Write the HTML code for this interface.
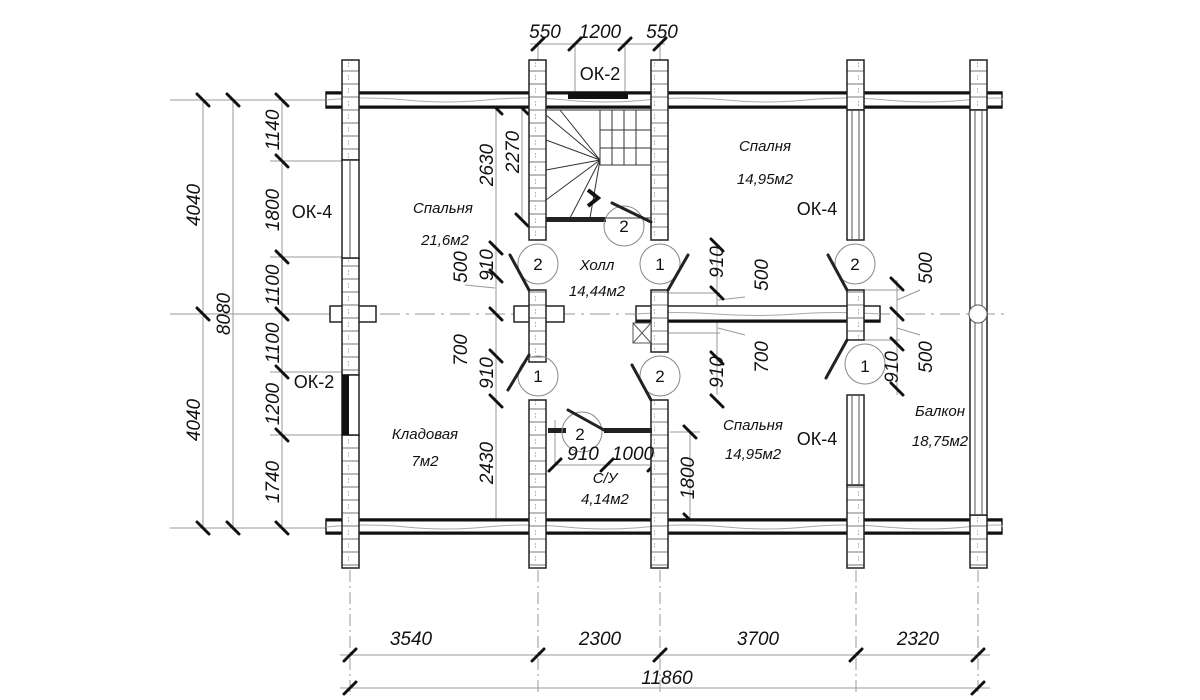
<!DOCTYPE html>
<html><head><meta charset="utf-8"><style>
html,body{margin:0;padding:0;background:#fff;}
svg{display:block}
text{font-family:"Liberation Sans","DejaVu Sans",sans-serif;fill:#111;}
.d{font-size:19px;font-style:italic}
.r{font-size:15px;font-style:italic}
.ok{font-size:18px}
</style></head><body>
<svg width="1200" height="700" viewBox="0 0 1200 700" xmlns="http://www.w3.org/2000/svg">
<defs>
<pattern id="ch" width="17" height="13" patternUnits="userSpaceOnUse">
<rect width="17" height="13" fill="#fff"/>
<line x1="0" y1="6" x2="17" y2="6" stroke="#777" stroke-width="1"/>
<line x1="8.5" y1="0" x2="8.5" y2="13" stroke="#bbb" stroke-width="1" stroke-dasharray="2,3"/>
</pattern>
</defs>
<rect width="1200" height="700" fill="#fff"/>
<g stroke="#999" stroke-width="1" fill="none">
<line x1="170" y1="100" x2="330" y2="100"/>
<line x1="270" y1="161" x2="345" y2="161"/>
<line x1="270" y1="257" x2="345" y2="257"/>
<line x1="170" y1="314" x2="330" y2="314"/>
<line x1="270" y1="372" x2="345" y2="372"/>
<line x1="270" y1="435" x2="345" y2="435"/>
<line x1="170" y1="528" x2="330" y2="528"/>
<line x1="203" y1="100" x2="203" y2="528"/>
<line x1="233" y1="100" x2="233" y2="528"/>
<line x1="282" y1="100" x2="282" y2="528"/>
<line x1="350" y1="570" x2="350" y2="695" stroke-dasharray="12,4,2,4"/>
<line x1="538" y1="570" x2="538" y2="695" stroke-dasharray="12,4,2,4"/>
<line x1="660" y1="570" x2="660" y2="695" stroke-dasharray="12,4,2,4"/>
<line x1="856" y1="570" x2="856" y2="695" stroke-dasharray="12,4,2,4"/>
<line x1="978" y1="570" x2="978" y2="695" stroke-dasharray="12,4,2,4"/>
<line x1="340" y1="655" x2="990" y2="655"/>
<line x1="340" y1="688" x2="990" y2="688"/>
<line x1="530" y1="44" x2="665" y2="44"/>
<line x1="575" y1="44" x2="575" y2="92"/>
<line x1="625" y1="44" x2="625" y2="92"/>
<line x1="538" y1="44" x2="538" y2="60"/>
<line x1="660" y1="44" x2="660" y2="60"/>
<line x1="170" y1="314" x2="1010" y2="314" stroke-dasharray="20,6,3,6"/>
<line x1="496" y1="108" x2="496" y2="528"/>
<line x1="522" y1="108" x2="522" y2="220"/>
<line x1="717" y1="245" x2="717" y2="395"/>
<line x1="690" y1="432" x2="690" y2="520"/>
<line x1="670" y1="432" x2="700" y2="432"/>
<line x1="897" y1="280" x2="897" y2="395"/>
<line x1="555" y1="420" x2="555" y2="465"/>
<line x1="555" y1="465" x2="660" y2="465"/>
<line x1="660" y1="293" x2="720" y2="293"/>
<line x1="660" y1="333" x2="720" y2="333"/>
<line x1="860" y1="290" x2="900" y2="290"/>
<line x1="860" y1="340" x2="900" y2="340"/>
<line x1="718" y1="300" x2="745" y2="297"/>
<line x1="718" y1="328" x2="745" y2="335"/>
<line x1="897" y1="300" x2="920" y2="290"/>
<line x1="897" y1="328" x2="920" y2="335"/>
<line x1="465" y1="285" x2="495" y2="288"/>
</g>
<g stroke="#111" stroke-width="3" stroke-linecap="round">
<path d="M197 94l12 12M227 94l12 12M276 94l12 12M276 155l12 12M276 251l12 12M197 308l12 12M276 308l12 12M276 366l12 12M276 429l12 12M197 522l12 12M227 522l12 12M276 522l12 12"/>
<path d="M344 661l12-12M532 661l12-12M654 661l12-12M850 661l12-12M972 661l12-12M344 694l12-12M972 694l12-12
M532 50l12-12M569 50l12-12M619 50l12-12M654 50l12-12
M490 102l12 12M516 102l12 12M516 214l12 12M490 242l12 12M490 270l12 12M490 308l12 12M490 350l12 12M490 395l12 12M490 520l12 12
M711 239l12 12M711 287l12 12M711 352l12 12M711 395l12 12M684 426l12 12M684 514l12 12
M891 278l12 12M891 308l12 12M891 338l12 12M891 383l12 12
M549 471l12-12M601 471l12-12M648 471l12-12"/>
</g>
<g stroke="#222" fill="#fff" stroke-width="1.5">
<rect x="326" y="92" width="676" height="16"/>
<rect x="326" y="519" width="676" height="15"/>
<rect x="330" y="306" width="46" height="16"/>
<rect x="514" y="306" width="50" height="16"/>
<rect x="636" y="306" width="244" height="16"/>
</g>
<g stroke="#aaa" stroke-width="1" fill="none">
<path d="M326 100q40 -4 80 0t80 0t80 0t80 0t80 0t80 0t80 0t80 0t36 0"/>
<path d="M326 527q40 -4 80 0t80 0t80 0t80 0t80 0t80 0t80 0t80 0t36 0"/>
<path d="M636 314q40 -3 80 0t80 0t84 0"/>
</g>
<g stroke="#111" stroke-width="3">
<line x1="326" y1="93" x2="1002" y2="93"/><line x1="326" y1="107" x2="1002" y2="107"/>
<line x1="326" y1="520" x2="1002" y2="520"/><line x1="326" y1="533" x2="1002" y2="533"/>
<line x1="636" y1="321" x2="880" y2="321"/>
</g>
<g stroke="#222" fill="url(#ch)" stroke-width="1.5">
<rect x="342" y="60" width="17" height="100"/>
<rect x="342" y="258" width="17" height="117"/>
<rect x="342" y="435" width="17" height="133"/>
<rect x="529" y="60" width="17" height="180"/>
<rect x="529" y="290" width="17" height="72"/>
<rect x="529" y="400" width="17" height="168"/>
<rect x="651" y="60" width="17" height="180"/>
<rect x="651" y="290" width="17" height="62"/>
<rect x="651" y="400" width="17" height="168"/>
<rect x="847" y="60" width="17" height="50"/>
<rect x="847" y="290" width="17" height="50"/>
<rect x="847" y="485" width="17" height="83"/>
<rect x="970" y="60" width="17" height="50"/>
<rect x="970" y="515" width="17" height="53"/>
</g>
<g stroke="#222" fill="#fff" stroke-width="1.5">
<rect x="342" y="160" width="17" height="98"/>
<rect x="342" y="375" width="17" height="60"/>
<rect x="847" y="110" width="17" height="130"/>
<rect x="847" y="395" width="17" height="90"/>
<rect x="970" y="110" width="17" height="405"/>
</g>
<g stroke="#555" stroke-width="1">
<line x1="350" y1="160" x2="350" y2="258"/>
<line x1="852" y1="110" x2="852" y2="240"/><line x1="859" y1="110" x2="859" y2="240"/>
<line x1="852" y1="395" x2="852" y2="485"/><line x1="859" y1="395" x2="859" y2="485"/>
<line x1="975" y1="110" x2="975" y2="515"/><line x1="982" y1="110" x2="982" y2="515"/>
<circle cx="978" cy="314" r="9" fill="#fff"/>
<rect x="633" y="323" width="18" height="20" fill="#fff"/>
<line x1="633" y1="323" x2="651" y2="343"/><line x1="651" y1="323" x2="633" y2="343"/>
</g>
<rect x="568" y="94" width="60" height="5" fill="#111"/>
<rect x="342" y="375" width="7" height="60" fill="#111"/>
<g stroke="#333" stroke-width="1" fill="none">
<rect x="546" y="110" width="105" height="108"/>
<line x1="600" y1="110" x2="600" y2="165"/><line x1="600" y1="165" x2="651" y2="165"/>
<path d="M600 160L546 115M600 160L560 110M600 160L546 140M600 160L546 170M600 160L546 200M600 160L570 218M600 160L590 218"/>
<path d="M612 110v55M624 110v55M636 110v55M600 130h51M600 148h51"/>
</g>
<rect x="546" y="217" width="60" height="5" fill="#222"/>
<path d="M588 190l10 8-10 8" stroke="#111" stroke-width="4" fill="none"/>
<rect x="548" y="428" width="18" height="5" fill="#222"/>
<rect x="604" y="428" width="48" height="5" fill="#222"/>
<g stroke="#888" stroke-width="1" fill="none">
<circle cx="538" cy="264" r="20"/><circle cx="660" cy="264" r="20"/>
<circle cx="624" cy="226" r="20"/><circle cx="538" cy="376" r="20"/>
<circle cx="660" cy="376" r="20"/><circle cx="582" cy="432" r="20"/>
<circle cx="855" cy="264" r="20"/><circle cx="865" cy="364" r="20"/>
</g>
<g stroke="#222" stroke-width="3" stroke-linecap="round">
<line x1="529" y1="290" x2="510" y2="255"/><line x1="668" y1="290" x2="688" y2="255"/>
<line x1="651" y1="222" x2="612" y2="203"/><line x1="529" y1="355" x2="508" y2="390"/>
<line x1="651" y1="400" x2="632" y2="365"/><line x1="604" y1="430" x2="568" y2="410"/>
<line x1="847" y1="290" x2="828" y2="255"/><line x1="847" y1="340" x2="826" y2="378"/>
</g>
<g font-size="17">
<text x="538" y="270" text-anchor="middle">2</text><text x="660" y="270" text-anchor="middle">1</text>
<text x="624" y="232" text-anchor="middle">2</text><text x="538" y="382" text-anchor="middle">1</text>
<text x="660" y="382" text-anchor="middle">2</text><text x="580" y="440" text-anchor="middle">2</text>
<text x="855" y="270" text-anchor="middle">2</text><text x="865" y="372" text-anchor="middle">1</text>
</g>
<g class="d" text-anchor="middle">
<text x="545" y="38">550</text><text x="600" y="38">1200</text><text x="662" y="38">550</text>
<text x="411" y="645">3540</text><text x="600" y="645">2300</text><text x="758" y="645">3700</text>
<text x="918" y="645">2320</text><text x="667" y="684">11860</text>
<text x="583" y="460">910</text><text x="633" y="460">1000</text>
</g>
<g class="d" text-anchor="middle">
<text transform="translate(200,205) rotate(-90)">4040</text>
<text transform="translate(200,420) rotate(-90)">4040</text>
<text transform="translate(230,314) rotate(-90)">8080</text>
<text transform="translate(279,130) rotate(-90)">1140</text>
<text transform="translate(279,210) rotate(-90)">1800</text>
<text transform="translate(279,285) rotate(-90)">1100</text>
<text transform="translate(279,343) rotate(-90)">1100</text>
<text transform="translate(279,404) rotate(-90)">1200</text>
<text transform="translate(279,482) rotate(-90)">1740</text>
<text transform="translate(493,165) rotate(-90)">2630</text>
<text transform="translate(519,152) rotate(-90)">2270</text>
<text transform="translate(467,267) rotate(-90)">500</text>
<text transform="translate(493,265) rotate(-90)">910</text>
<text transform="translate(467,350) rotate(-90)">700</text>
<text transform="translate(493,373) rotate(-90)">910</text>
<text transform="translate(493,463) rotate(-90)">2430</text>
<text transform="translate(723,262) rotate(-90)">910</text>
<text transform="translate(768,275) rotate(-90)">500</text>
<text transform="translate(723,372) rotate(-90)">910</text>
<text transform="translate(768,357) rotate(-90)">700</text>
<text transform="translate(694,478) rotate(-90)">1800</text>
<text transform="translate(932,268) rotate(-90)">500</text>
<text transform="translate(932,357) rotate(-90)">500</text>
<text transform="translate(898,367) rotate(-90)">910</text>
</g>
<g class="ok" text-anchor="middle">
<text x="312" y="218">ОК-4</text><text x="314" y="388">ОК-2</text>
<text x="600" y="80">ОК-2</text><text x="817" y="215">ОК-4</text><text x="817" y="445">ОК-4</text>
</g>
<g class="r" text-anchor="middle">
<text x="443" y="213">Спальня</text><text x="445" y="245">21,6м2</text>
<text x="597" y="270">Холл</text><text x="597" y="296">14,44м2</text>
<text x="765" y="151">Спалня</text><text x="765" y="184">14,95м2</text>
<text x="425" y="439">Кладовая</text><text x="425" y="466">7м2</text>
<text x="605" y="483">С/У</text><text x="605" y="504">4,14м2</text>
<text x="753" y="430">Спальня</text><text x="753" y="459">14,95м2</text>
<text x="940" y="416">Балкон</text><text x="940" y="446">18,75м2</text>
</g>
</svg>
</body></html>
